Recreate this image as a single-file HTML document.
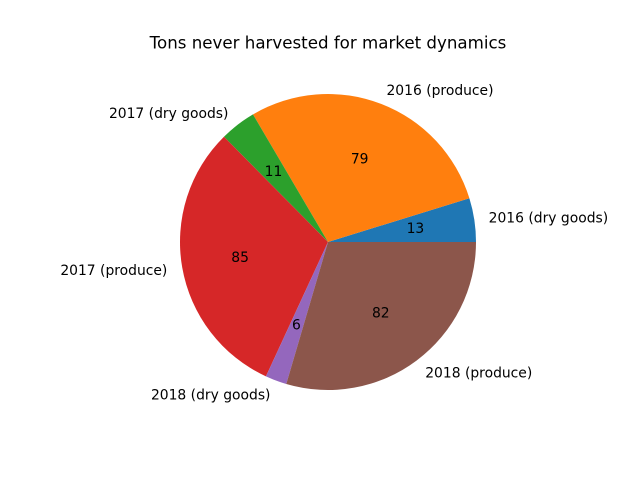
<!DOCTYPE html>
<html>
<head>
<meta charset="utf-8">
<title>Tons never harvested for market dynamics</title>
<style>
html,body{margin:0;padding:0;background:#fff;width:640px;height:480px;overflow:hidden}
svg{display:block}
text{font-family:"DejaVu Sans",sans-serif;fill:#000}
</style>
</head>
<body>
<svg id="chart" width="640" height="480" viewBox="0 0 640 480" xmlns="http://www.w3.org/2000/svg">
<rect width="640" height="480" fill="#ffffff"/>
<text x="328" y="48.5" font-size="16.67" text-anchor="middle">Tons never harvested for market dynamics</text>
<g id="slices"></g>
<g id="labels"></g>
</svg>
<script>
const categories = ["2016 (dry goods)", "2016 (produce)", "2017 (dry goods)", "2017 (produce)", "2018 (dry goods)", "2018 (produce)"];
const seriesValues = [13.2, 79.2, 10.9, 84.8, 6.45, 81.6];
const sliceColors = ["#1f77b4", "#ff7f0e", "#2ca02c", "#d62728", "#9467bd", "#8c564b"];

const NS = "http://www.w3.org/2000/svg";
const cx = 328, cy = 242, radius = 148;
const total = seriesValues.reduce((a, b) => a + b, 0);
const angleOf = v => v / total * 2 * Math.PI;
const px = (a, r) => cx + r * Math.cos(a);
const py = (a, r) => cy - r * Math.sin(a);
const slices = document.getElementById("slices");
const labels = document.getElementById("labels");
let start = 0;
seriesValues.forEach((v, i) => {
  const sweep = angleOf(v);
  const end = start + sweep;
  const mid = start + sweep / 2;
  const slug = categories[i].replace(/[^a-z0-9]+/gi, "-").replace(/-$/, "").toLowerCase();

  const path = document.createElementNS(NS, "path");
  path.setAttribute("d", "M" + cx + " " + cy + " L" + px(start, radius) + " " + py(start, radius) +
    " A" + radius + " " + radius + " 0 " + (sweep > Math.PI ? 1 : 0) + " 0 " + px(end, radius) + " " + py(end, radius) + " Z");
  path.setAttribute("fill", sliceColors[i % sliceColors.length]);
  
  
  slices.appendChild(path);

  const lx = px(mid, radius * 1.1);
  const label = document.createElementNS(NS, "text");
  label.setAttribute("x", lx - 0.3);
  label.setAttribute("y", py(mid, radius * 1.1) + 5);
  label.setAttribute("font-size", "13.89");
  label.setAttribute("text-anchor", lx > cx ? "start" : "end");
  label.textContent = categories[i];
  
  
  labels.appendChild(label);

  const value = document.createElementNS(NS, "text");
  value.setAttribute("x", px(mid, radius * 0.6) - 0.4);
  value.setAttribute("y", py(mid, radius * 0.6) + 4.5);
  value.setAttribute("font-size", "13.89");
  value.setAttribute("text-anchor", "middle");
  value.textContent = String(Math.round(v));
  
  
  labels.appendChild(value);

  start = end;
});
</script>
</body>
</html>
